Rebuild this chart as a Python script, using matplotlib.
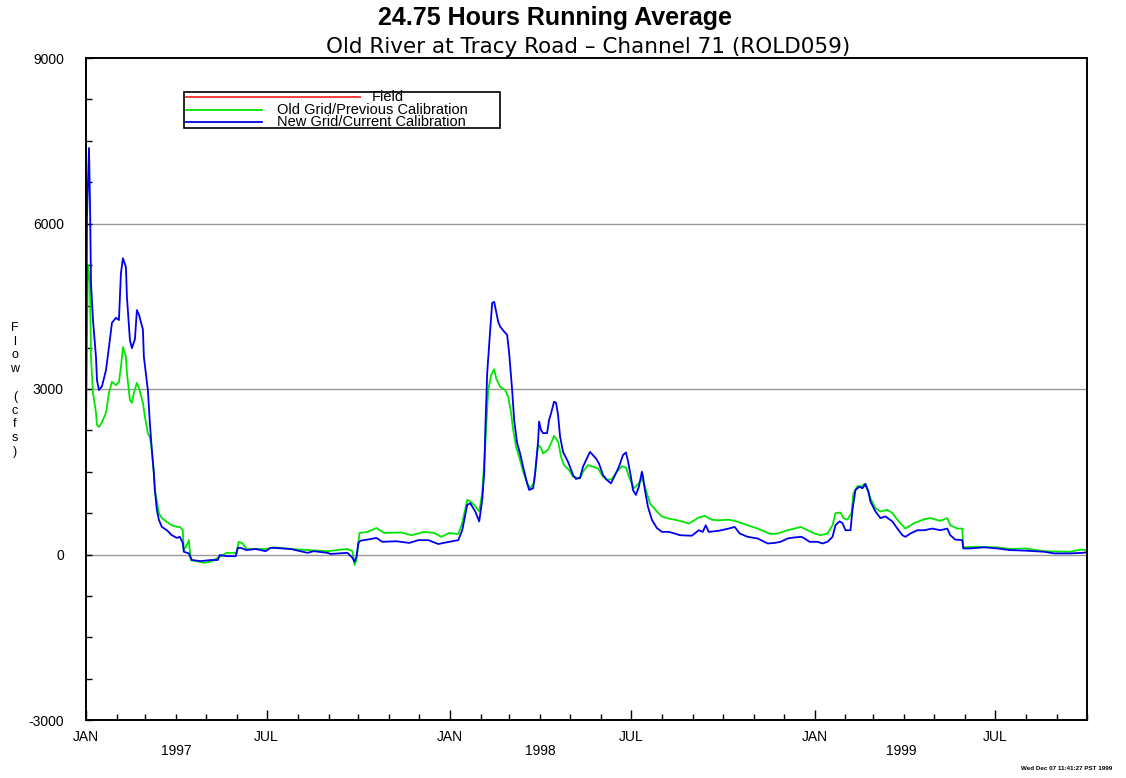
"""24.75 hour running average flow, Old River at Tracy Road (ROLD059)."""
import pandas as pd
import matplotlib
matplotlib.use("Agg")
import matplotlib.pyplot as plt
import matplotlib.dates as mdates
from matplotlib.lines import Line2D
from matplotlib.patches import Rectangle
from matplotlib.ticker import FuncFormatter

plt.rcParams['font.family'] = ['Liberation Sans Narrow', 'Liberation Sans', 'DejaVu Sans']

# --- data (cfs) ---
field_dates = []
field_vals = []

green_dates = [
    "1997-01-01", "1997-01-02", "1997-01-03", "1997-01-05", "1997-01-06", "1997-01-08",
    "1997-01-11", "1997-01-12", "1997-01-14", "1997-01-17", "1997-01-21", "1997-01-24",
    "1997-01-27", "1997-01-31", "1997-02-03", "1997-02-05", "1997-02-07", "1997-02-10",
    "1997-02-11", "1997-02-14", "1997-02-16", "1997-02-18", "1997-02-21", "1997-02-23",
    "1997-02-27", "1997-03-01", "1997-03-04", "1997-03-06", "1997-03-08", "1997-03-10",
    "1997-03-11", "1997-03-15", "1997-03-18", "1997-03-23", "1997-03-28", "1997-04-02",
    "1997-04-05", "1997-04-08", "1997-04-09", "1997-04-12", "1997-04-14", "1997-04-16",
    "1997-04-29", "1997-05-06", "1997-05-14", "1997-05-22", "1997-06-01", "1997-06-03",
    "1997-06-07", "1997-06-11", "1997-06-20", "1997-06-30", "1997-07-08", "1997-07-25",
    "1997-08-11", "1997-08-31", "1997-09-20", "1997-09-25", "1997-09-27", "1997-09-29",
    "1997-10-02", "1997-10-10", "1997-10-19", "1997-10-27", "1997-11-13", "1997-11-23",
    "1997-12-06", "1997-12-16", "1997-12-23", "1997-12-31",
    "1998-01-09", "1998-01-13", "1998-01-18", "1998-01-21", "1998-01-25", "1998-01-30",
    "1998-02-02", "1998-02-05", "1998-02-08", "1998-02-11", "1998-02-14", "1998-02-16",
    "1998-02-20", "1998-02-25", "1998-02-28", "1998-03-03", "1998-03-05", "1998-03-08",
    "1998-03-12", "1998-03-15", "1998-03-19", "1998-03-22", "1998-03-26", "1998-03-30",
    "1998-04-02", "1998-04-04", "1998-04-09", "1998-04-12", "1998-04-15", "1998-04-19",
    "1998-04-22", "1998-04-25", "1998-04-30", "1998-05-04", "1998-05-11", "1998-05-14",
    "1998-05-19", "1998-05-24", "1998-05-29", "1998-06-03", "1998-06-07", "1998-06-12",
    "1998-06-17", "1998-06-22", "1998-06-26", "1998-06-29", "1998-07-04", "1998-07-09",
    "1998-07-12", "1998-07-15", "1998-07-20", "1998-07-27", "1998-08-01", "1998-08-08",
    "1998-08-14", "1998-08-21", "1998-08-28", "1998-09-07", "1998-09-13", "1998-09-20",
    "1998-09-27", "1998-10-07", "1998-10-13", "1998-10-20", "1998-10-26", "1998-11-05",
    "1998-11-18", "1998-11-25", "1998-12-05", "1998-12-12", "1998-12-18", "1998-12-25",
    "1999-01-01", "1999-01-07", "1999-01-14", "1999-01-19", "1999-01-22", "1999-01-27",
    "1999-01-30", "1999-02-03", "1999-02-07", "1999-02-09", "1999-02-13", "1999-02-17",
    "1999-02-20", "1999-02-23", "1999-02-26", "1999-03-03", "1999-03-08", "1999-03-15",
    "1999-03-20", "1999-03-25", "1999-04-02", "1999-04-11", "1999-04-21", "1999-04-27",
    "1999-05-07", "1999-05-14", "1999-05-17", "1999-05-24", "1999-05-29", "1999-05-30",
    "1999-06-13", "1999-07-03", "1999-07-16", "1999-07-31", "1999-08-19", "1999-09-14",
    "1999-09-25", "1999-10-01",
]
green_vals = [
    2000, 4000, 5250, 4920, 3580, 2930,
    2570, 2350, 2310, 2400, 2570, 2930,
    3130, 3070, 3130, 3400, 3760, 3580,
    3290, 2800, 2750, 2930, 3110, 3020,
    2750, 2500, 2200, 2130, 1890, 1470,
    1170, 750, 660, 590, 530, 500,
    500, 440, 80, 170, 260, -100,
    -150, -130, -50, 30, 30, 230,
    200, 100, 100, 100, 130, 100,
    80, 60, 100, 60, -190, -100,
    390, 410, 480, 390, 400, 350,
    410, 390, 320, 390,
    370, 570, 990, 960, 900, 780,
    1110, 1950, 2980, 3250, 3360, 3190,
    3040, 2980, 2860, 2560, 2260, 1950,
    1710, 1500, 1300, 1200, 1300, 1990,
    1930, 1830, 1900, 2020, 2150, 2050,
    1770, 1620, 1530, 1410, 1380, 1500,
    1620, 1590, 1560, 1410, 1350, 1370,
    1500, 1600, 1580, 1410, 1200, 1290,
    1380, 1230, 930, 780, 690, 650,
    630, 600, 560, 670, 700, 630,
    620, 630, 610, 570, 530, 470,
    370, 380, 440, 470, 500, 440,
    380, 350, 380, 530, 750, 760,
    660, 630, 750, 1110, 1240, 1230,
    1280, 1170, 1020, 840, 780, 810,
    750, 630, 470, 570, 640, 660,
    610, 660, 530, 470, 470, 130,
    140, 130, 100, 110, 60, 50,
    90, 80,
]

blue_dates = [
    "1997-01-01", "1997-01-02", "1997-01-04", "1997-01-05", "1997-01-06", "1997-01-08",
    "1997-01-11", "1997-01-12", "1997-01-14", "1997-01-17", "1997-01-21", "1997-01-24",
    "1997-01-27", "1997-01-31", "1997-02-03", "1997-02-05", "1997-02-07", "1997-02-10",
    "1997-02-11", "1997-02-14", "1997-02-16", "1997-02-19", "1997-02-21", "1997-02-23",
    "1997-02-27", "1997-02-28", "1997-03-04", "1997-03-06", "1997-03-08", "1997-03-10",
    "1997-03-11", "1997-03-13", "1997-03-15", "1997-03-18", "1997-03-23", "1997-03-28",
    "1997-04-02", "1997-04-05", "1997-04-08", "1997-04-09", "1997-04-14", "1997-04-17",
    "1997-04-26", "1997-05-06", "1997-05-13", "1997-05-15", "1997-05-22", "1997-05-31",
    "1997-06-02", "1997-06-05", "1997-06-11", "1997-06-20", "1997-06-30", "1997-07-05",
    "1997-07-08", "1997-07-25", "1997-08-11", "1997-08-17", "1997-08-31", "1997-09-03",
    "1997-09-20", "1997-09-25", "1997-09-27", "1997-09-29", "1997-10-01", "1997-10-03",
    "1997-10-10", "1997-10-19", "1997-10-25", "1997-11-08", "1997-11-21", "1997-11-30",
    "1997-12-10", "1997-12-20", "1997-12-31",
    "1998-01-09", "1998-01-13", "1998-01-18", "1998-01-21", "1998-01-26", "1998-01-30",
    "1998-02-02", "1998-02-04", "1998-02-05", "1998-02-07", "1998-02-10", "1998-02-12",
    "1998-02-14", "1998-02-18", "1998-02-20", "1998-02-24", "1998-02-27", "1998-03-01",
    "1998-03-04", "1998-03-06", "1998-03-09", "1998-03-12", "1998-03-15", "1998-03-19",
    "1998-03-21", "1998-03-25", "1998-03-27", "1998-03-30", "1998-03-31", "1998-04-02",
    "1998-04-04", "1998-04-08", "1998-04-10", "1998-04-12", "1998-04-15", "1998-04-17",
    "1998-04-19", "1998-04-21", "1998-04-24", "1998-04-29", "1998-05-04", "1998-05-07",
    "1998-05-11", "1998-05-14", "1998-05-17", "1998-05-21", "1998-05-24", "1998-05-27",
    "1998-05-30", "1998-06-03", "1998-06-07", "1998-06-11", "1998-06-14", "1998-06-19",
    "1998-06-23", "1998-06-26", "1998-06-28", "1998-07-01", "1998-07-03", "1998-07-06",
    "1998-07-09", "1998-07-12", "1998-07-13", "1998-07-15", "1998-07-18", "1998-07-22",
    "1998-07-27", "1998-08-01", "1998-08-08", "1998-08-14", "1998-08-19", "1998-08-31",
    "1998-09-07", "1998-09-11", "1998-09-14", "1998-09-17", "1998-09-27", "1998-10-07",
    "1998-10-13", "1998-10-18", "1998-10-26", "1998-11-05", "1998-11-15", "1998-11-22",
    "1998-11-28", "1998-12-05", "1998-12-12", "1998-12-19", "1998-12-22", "1998-12-27",
    "1999-01-04", "1999-01-09", "1999-01-14", "1999-01-19", "1999-01-22", "1999-01-26",
    "1999-01-29", "1999-02-01", "1999-02-06", "1999-02-08", "1999-02-11", "1999-02-15",
    "1999-02-18", "1999-02-21", "1999-02-24", "1999-02-26", "1999-03-03", "1999-03-08",
    "1999-03-13", "1999-03-20", "1999-03-25", "1999-03-30", "1999-04-02", "1999-04-07",
    "1999-04-14", "1999-04-21", "1999-04-29", "1999-05-07", "1999-05-14", "1999-05-17",
    "1999-05-22", "1999-05-29", "1999-05-30", "1999-06-06", "1999-06-20", "1999-07-03",
    "1999-07-16", "1999-07-31", "1999-08-19", "1999-08-29", "1999-09-14", "1999-09-26",
    "1999-10-01",
]
blue_vals = [
    2250, 6120, 7370, 6370, 4920, 4250,
    3580, 3160, 2980, 3050, 3340, 3760,
    4200, 4290, 4250, 5100, 5370, 5210,
    4670, 3890, 3740, 3900, 4430, 4350,
    4080, 3580, 2980, 2380, 1890, 1470,
    1170, 810, 630, 500, 440, 350,
    300, 320, 210, 50, 20, -100,
    -120, -100, -100, -10, -30, -30,
    120, 120, 80, 100, 60, 120,
    120, 100, 30, 60, 30, 10,
    30, -60, -130, -40, 210, 250,
    270, 300, 230, 240, 210, 260,
    260, 190, 230,
    260, 440, 900, 930, 780, 600,
    990, 1480, 2200, 3290, 4070, 4560,
    4580, 4220, 4130, 4040, 3980, 3650,
    2980, 2440, 2020, 1830, 1590, 1290,
    1170, 1200, 1470, 2050, 2410, 2250,
    2200, 2200, 2440, 2560, 2770, 2750,
    2530, 2140, 1860, 1680, 1440, 1370,
    1390, 1590, 1710, 1860, 1800, 1740,
    1650, 1440, 1350, 1290, 1400, 1590,
    1800, 1850, 1700, 1410, 1170, 1080,
    1230, 1500, 1420, 1170, 870, 630,
    480, 410, 410, 380, 350, 340,
    440, 410, 530, 410, 430, 470,
    500, 380, 320, 290, 200, 210,
    230, 290, 310, 320, 290, 230,
    230, 200, 230, 320, 530, 600,
    570, 440, 440, 810, 1170, 1230,
    1200, 1280, 1140, 960, 780, 660,
    690, 600, 470, 350, 320, 380,
    440, 440, 470, 440, 470, 350,
    270, 260, 110, 110, 130, 110,
    80, 70, 50, 20, 20, 30,
    40,
]

year_labels = ["1997", "1998", "1999"]
year_label_dates = ["1997-04-01", "1998-04-01", "1999-03-29"]

W, H = 1126, 778
fig = plt.figure(figsize=(W / 100, H / 100), dpi=100)
fig.patch.set_facecolor('white')
ax = fig.add_axes([86 / W, 1 - 720 / H, (1087 - 86) / W, (720 - 58) / H])

ax.plot(pd.to_datetime(field_dates), field_vals, color='#ff3030', lw=1.1)
ax.plot(pd.to_datetime(green_dates), green_vals, color='#00e600', lw=1.3)
ax.plot(pd.to_datetime(blue_dates), blue_vals, color='#0000f0', lw=1.3)

ax.set_xlim(pd.Timestamp("1997-01-01"), pd.Timestamp("1999-10-01"))
ax.set_ylim(-3000, 9000)

# horizontal reference lines
for yv in (0, 3000, 6000):
    ax.axhline(yv, color='#999999', lw=1.0, zorder=0)

ax.set_yticks([-3000, 0, 3000, 6000, 9000])
ax.set_yticklabels(["-3000", "0", "3000", "6000", "9000"])
ax.set_yticks(range(-3000, 9001, 750), minor=True)
ax.xaxis.set_major_locator(mdates.MonthLocator(bymonth=[1, 7]))
ax.xaxis.set_minor_locator(mdates.MonthLocator())
ax.xaxis.set_major_formatter(
    FuncFormatter(lambda v, pos: mdates.num2date(v).strftime('%b').upper()))

ax.tick_params(axis='y', which='both', direction='in', length=4, width=1, pad=16, labelsize=10)
ax.tick_params(axis='x', which='major', direction='in', length=7, width=1, pad=7, labelsize=10)
ax.tick_params(axis='x', which='minor', direction='in', length=4, width=1)
for s in ax.spines.values():
    s.set_linewidth(1.4)
    s.set_color('black')

for lab, d in zip(year_labels, year_label_dates):
    ax.text(pd.Timestamp(d), -0.037, lab, transform=ax.get_xaxis_transform(),
            ha='center', va='top', fontsize=10)

# titles
fig.text(555 / W, 1 - 18 / H, "24.75 Hours Running Average", ha='center', va='center',
         fontsize=18, fontweight='bold', family=['Liberation Sans', 'DejaVu Sans'])
fig.text(588 / W, 1 - 47 / H, "Old River at Tracy Road \u2013 Channel 71 (ROLD059)",
         ha='center', va='center', fontsize=15.5, family=['DejaVu Sans'])

# vertical axis label, one letter per line
fig.text(15 / W, 1 - 390 / H, "F\nl\no\nw\n \n(\nc\nf\ns\n)", ha='center', va='center',
         fontsize=9, linespacing=1.2, family=['Liberation Sans', 'DejaVu Sans'])

# legend box
fig.patches.append(Rectangle((184 / W, 1 - 128 / H), (500 - 184) / W, 36 / H,
                             transform=fig.transFigure, fill=False, lw=1.2, ec='black'))
legend_rows = [
    ("Field", '#ff3030', 360, 372, 97),
    ("Old Grid/Previous Calibration", '#00e600', 262, 277, 110),
    ("New Grid/Current Calibration", '#0000f0', 262, 277, 122),
]
for label, col, x_end, x_txt, yy in legend_rows:
    fig.lines.append(Line2D([186 / W, x_end / W], [1 - yy / H, 1 - yy / H],
                            transform=fig.transFigure, color=col, lw=1.3))
    fig.text(x_txt / W, 1 - yy / H, label, ha='left', va='center', fontsize=10.5)

fig.text(1112 / W, 1 - 769 / H, "Wed Dec 07 11:41:27 PST 1999", ha='right', va='center',
         fontsize=4.5, fontweight='bold')

fig.savefig("out.png", dpi=100, facecolor='white')
